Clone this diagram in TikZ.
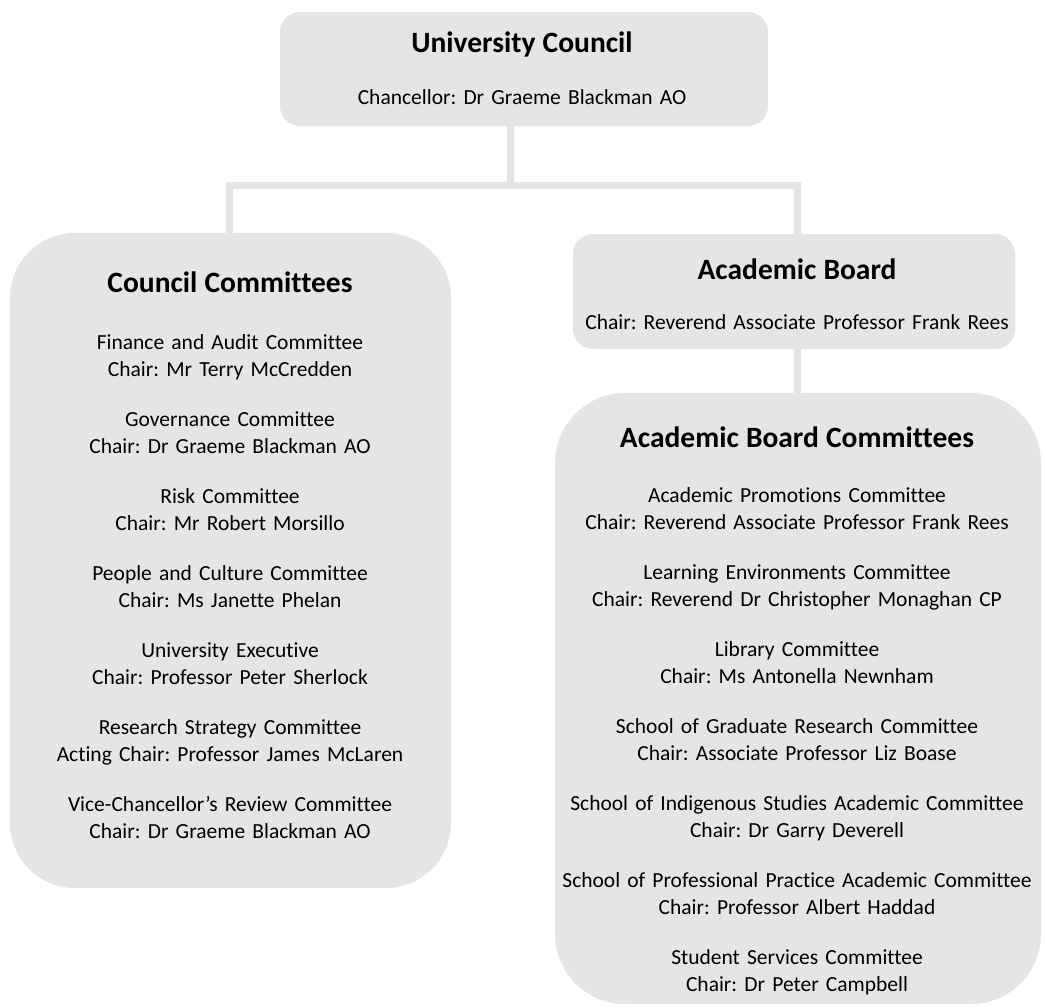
\documentclass[tikz,border=0pt]{standalone}
\usepackage{fontspec}
\setmainfont{Carlito}[Ligatures={TeX,NoCommon},Contextuals={NoAlternate}]
\frenchspacing

\definecolor{panelgray}{RGB}{229,229,229}
% bold heading line of a panel
\newcommand{\boxtitle}[1]{{\bfseries\fontsize{29.5}{36}\selectfont #1}}

\begin{document}
\begin{tikzpicture}
[x=1pt,y=-1pt,
 panel/.style={fill=panelgray,inner sep=0pt,outer sep=0pt},
 entries/.style={align=center,text width=480pt,inner sep=0pt,anchor=base,
   font=\fontsize{21.5}{27}\selectfont},
 link/.style={draw=panelgray,line width=7pt}]
\useasboundingbox (0,0) rectangle (1046,1007);

% joints of the connector tree
\coordinate (hub) at (510,185);
\coordinate (ccjoin) at (229,185);
\coordinate (abjoin) at (797,185);

%The panels:
\node[panel,rounded corners=20pt,minimum width=488pt,minimum height=114pt] (council) at (524,69) {};
\node[panel,rounded corners=65pt,minimum width=441pt,minimum height=655pt] (cc) at (230.5,560.5) {};
\node[panel,rounded corners=20pt,minimum width=442pt,minimum height=115pt] (ab) at (794,291.5) {};
\node[panel,rounded corners=70pt,minimum width=486pt,minimum height=611pt] (abc) at (798,698.5) {};

%Connectors:
\draw[link] (council.south -| hub) -- (hub);
\draw[link] (cc.north -| ccjoin) -- (ccjoin) -- (abjoin) -- (ab.north -| abjoin);
\draw[link] (ab.south -| abjoin) -- (abc.north -| abjoin);

%Texts of the panels:
\node[entries] (counciltext) at (522,52.5) {\boxtitle{University Council}\\[24.5pt]
  Chancellor: Dr Graeme Blackman AO};
\node[entries] (cctext) at (230,292.5) {\boxtitle{Council Committees}\\[30pt]
  Finance and Audit Committee\\ Chair: Mr Terry McCredden\\[23pt]
  Governance Committee\\ Chair: Dr Graeme Blackman AO\\[23pt]
  Risk Committee\\ Chair: Mr Robert Morsillo\\[23pt]
  People and Culture Committee\\ Chair: Ms Janette Phelan\\[23pt]
  University Executive\\ Chair: Professor Peter Sherlock\\[23pt]
  Research Strategy Committee\\ Acting Chair: Professor James McLaren\\[23pt]
  Vice-Chancellor’s Review Committee\\ Chair: Dr Graeme Blackman AO};
\node[entries] (abtext) at (797,279.5) {\boxtitle{Academic Board}\\[22.5pt]
  Chair: Reverend Associate Professor Frank Rees};
\node[entries] (abctext) at (797,447) {\boxtitle{Academic Board Committees}\\[28pt]
  Academic Promotions Committee\\ Chair: Reverend Associate Professor Frank Rees\\[23pt]
  Learning Environments Committee\\ Chair: Reverend Dr Christopher Monaghan CP\\[23pt]
  Library Committee\\ Chair: Ms Antonella Newnham\\[23pt]
  School of Graduate Research Committee\\ Chair: Associate Professor Liz Boase\\[23pt]
  School of Indigenous Studies Academic Committee\\ Chair: Dr Garry Deverell\\[23pt]
  School of Professional Practice Academic Committee\\ Chair: Professor Albert Haddad\\[23pt]
  Student Services Committee\\ Chair: Dr Peter Campbell};
\end{tikzpicture}
\end{document}
